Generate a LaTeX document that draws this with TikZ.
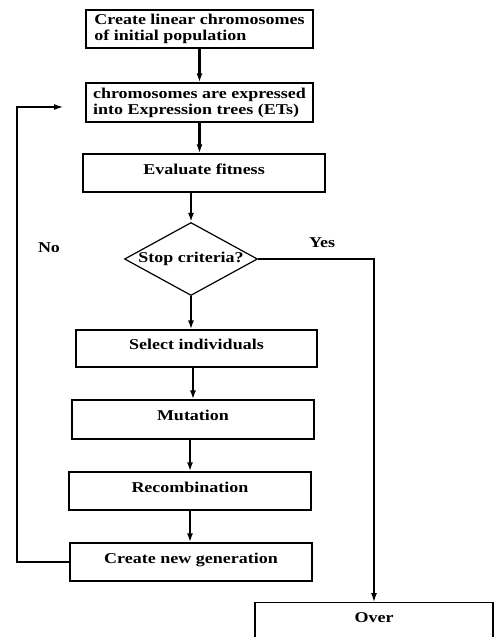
\documentclass[tikz,border=0pt]{standalone}
\usepackage{fontspec}
\setmainfont{Liberation Serif}[FakeStretch=1.2]
\usetikzlibrary{arrows.meta,shapes.geometric}

\begin{document}
\begin{tikzpicture}[x=1pt,y=-1pt,>={Latex[length=9pt,width=6pt]},font=\fontsize{15}{16}\selectfont\bfseries]
    \tikzstyle{stage}=[draw, line width=1.2pt, rectangle, minimum height=38pt, inner ysep=0pt, text height=10pt, text depth=8pt]
    \tikzstyle{twoline}=[draw, line width=1.2pt, rectangle, align=left, minimum width=227pt, minimum height=38pt, inner sep=3pt]
    \tikzstyle{decision}=[draw, line width=1.2pt, diamond, minimum width=133pt, minimum height=73pt, inner sep=0pt]
    \tikzstyle{flowarrow}=[->, line width=2.2pt]
    \tikzstyle{feedback}=[->, line width=1.3pt]

    \useasboundingbox (0,0) rectangle (495,637);
    \clip (0,0) rectangle (495,637);

    \node[twoline]                       (init)   at (199.5,29)    {Create linear chromosomes\\of initial population};
    \node[twoline, minimum height=39pt]  (expr)   at (199.5,102.5) {chromosomes are expressed\\into Expression trees (ETs)};
    \node[stage, minimum width=242pt]    (eval)   at (204,173)     {Evaluate fitness};
    \node[decision, label={center:Stop criteria?}] (stop) at (191,259) {};
    \node[stage, minimum width=241pt, minimum height=37pt] (select) at (196.5,348.5) {Select individuals};
    \node[stage, minimum width=242pt, minimum height=39pt] (mut)    at (193,419.5)   {Mutation};
    \node[stage, minimum width=242pt]    (recomb) at (190,491)     {Recombination};
    \node[stage, minimum width=242pt]    (newgen) at (191,562)     {Create new generation};
    \node[stage, minimum width=238pt, minimum height=40pt, text height=20pt, text depth=20pt, anchor=north] (over) at (374,602) {Over};

    \node (no)  at (49,248)  {No};
    \node (yes) at (322,243) {Yes};

    \coordinate (corner) at (17,107);
    \coordinate (back)   at (63,107);

    \draw[flowarrow] (init) -- (expr);
    \draw[flowarrow] (expr.south) -- (expr.south |- eval.north);
    \draw[flowarrow] (stop.north |- eval.south) -- (stop.north);
    \draw[flowarrow] (stop.south) -- (stop.south |- select.north);
    \draw[flowarrow] (mut.north |- select.south) -- (mut.north);
    \draw[flowarrow] (recomb.north |- mut.south) -- (recomb.north);
    \draw[flowarrow] (recomb.south) -- (recomb.south |- newgen.north);
    \draw[feedback] (newgen.west) -| (corner) -- (back);
    \draw[feedback] (stop.east) -| (over.north);
  \end{tikzpicture}
\end{document}
